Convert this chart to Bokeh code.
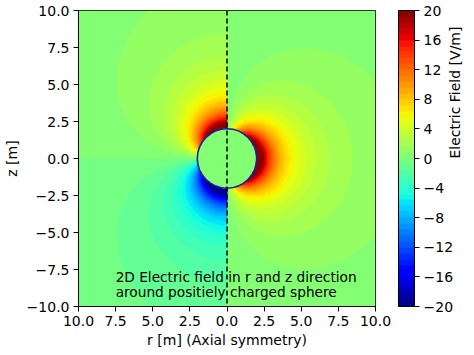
import numpy as np
from bokeh.plotting import figure
from bokeh.models import (LinearColorMapper, ColorBar, FixedTicker, CustomJSTickFormatter,
                          Label, Span, Range1d, LinearAxis)
from bokeh.embed import file_html
from bokeh.resources import INLINE

# ---------------- data ----------------
r_limits = [-10.0, 10.0]
z_limits = [-10.0, 10.0]
sphere_center = [0.0, 0.0]
sphere_radius = 2.0
field_constant = 115.0          # kQ (V*m)
field_limits = [-20.0, 20.0]
n_levels = 50
axis_ticks = [-10.0, -7.5, -5.0, -2.5, 0.0, 2.5, 5.0, 7.5, 10.0]
cbar_ticks = [-20, -16, -12, -8, -4, 0, 4, 8, 12, 16, 20]
note_lines = ["2D Electric field in r and z direction", "around positiely charged sphere"]
note_pos = [-7.5, -8.0, -9.0]
x_label = "r [m] (Axial symmetry)"
y_label = "z [m]"
cbar_label = "Electric Field [V/m]"

FONT = "DejaVu Sans"
FS = "14px"


def jet(t):
    t = np.asarray(t, dtype=float)
    r = np.interp(t, [0, 0.35, 0.66, 0.89, 1], [0, 0, 1, 1, 0.5])
    g = np.interp(t, [0, 0.125, 0.375, 0.64, 0.91, 1], [0, 0, 1, 1, 0, 0])
    b = np.interp(t, [0, 0.11, 0.34, 0.65, 1], [0.5, 1, 1, 0, 0])
    return r, g, b


mids = (np.arange(n_levels) + 0.5) / n_levels
rr, gg, bb = jet(mids)
palette = ["#%02x%02x%02x" % (int(round(a * 255)), int(round(b_ * 255)), int(round(c * 255)))
           for a, b_, c in zip(rr, gg, bb)]

# field grid: left half shows E_z, right half shows E_r
n = 400
xs = np.linspace(r_limits[0], r_limits[1], n)
zs = np.linspace(z_limits[0], z_limits[1], n)
X, Z = np.meshgrid(xs, zs)
R = np.hypot(X - sphere_center[0], Z - sphere_center[1])
R3 = np.maximum(R, 1e-6) ** 3
E = np.where(X < 0, field_constant * Z / R3, field_constant * X / R3)
E[R < sphere_radius] = 0.0
E = E.astype(np.float32)

mapper = LinearColorMapper(palette=palette, low=field_limits[0], high=field_limits[1])

p = figure(width=474, height=355, x_range=Range1d(*r_limits), y_range=Range1d(*z_limits),
           output_backend="svg", toolbar_location=None,
           min_border_left=77, min_border_right=99, min_border_top=10, min_border_bottom=49)
p.grid.visible = False
p.outline_line_color = "black"
p.outline_line_width = 1
p.background_fill_color = "white"

p.image(image=[E], x=r_limits[0], y=z_limits[0], dw=r_limits[1] - r_limits[0],
        dh=z_limits[1] - z_limits[0], color_mapper=mapper)

p.circle(x=[sphere_center[0]], y=[sphere_center[1]], radius=sphere_radius,
         fill_color=None, line_color="#1c1ca0", line_width=1.6)

p.add_layout(Span(location=0, dimension="height", line_color="black",
                  line_dash="5 3", line_width=1.5))

abs_fmt = CustomJSTickFormatter(code="return Math.abs(tick).toFixed(1);")
minus_fmt = CustomJSTickFormatter(code="return (tick < 0 ? '\u2212' : '') + Math.abs(tick).toFixed(1);")
cb_fmt = CustomJSTickFormatter(code="return (tick < 0 ? '\u2212' : '') + Math.abs(tick).toFixed(0);")

for ax, fmt in ((p.xaxis[0], abs_fmt), (p.yaxis[0], minus_fmt)):
    ax.ticker = FixedTicker(ticks=axis_ticks)
    ax.formatter = fmt
    ax.major_tick_out = 5
    ax.major_tick_in = 0
    ax.minor_tick_line_color = None
    ax.axis_line_color = "black"
    ax.major_tick_line_color = "black"
    ax.major_label_text_font = FONT
    ax.major_label_text_font_size = FS
    ax.major_label_text_color = "black"
    ax.major_label_standoff = 4
    ax.axis_label_text_font = FONT
    ax.axis_label_text_font_size = FS
    ax.axis_label_text_font_style = "normal"
    ax.axis_label_text_color = "black"

p.xaxis[0].axis_label = x_label
p.xaxis[0].axis_label_standoff = 3
p.yaxis[0].axis_label = y_label
p.yaxis[0].axis_label_standoff = 4

cb = ColorBar(color_mapper=mapper, ticker=FixedTicker(ticks=cbar_ticks), formatter=cb_fmt,
              width=16, height=296, padding=0, margin=0, location=(320, 0),
              bar_line_color="black", bar_line_width=1,
              major_tick_out=5, major_tick_in=0, major_tick_line_color="black",
              minor_tick_line_color=None, label_standoff=4,
              major_label_text_font=FONT, major_label_text_font_size=FS,
              major_label_text_color="black",
              background_fill_alpha=0, border_line_color=None)
p.add_layout(cb, "center")

# colour-bar title carried by a tickless axis on the right
cb_axis = LinearAxis(ticker=FixedTicker(ticks=[]), axis_line_color=None,
                     major_tick_out=0, major_tick_in=0, minor_tick_out=0, minor_tick_in=0,
                     major_tick_line_color=None, minor_tick_line_color=None,
                     major_label_standoff=0,
                     axis_label=cbar_label, axis_label_standoff=79,
                     axis_label_orientation=np.pi / 2,
                     axis_label_text_font=FONT, axis_label_text_font_size=FS,
                     axis_label_text_font_style="normal", axis_label_text_color="black")
p.add_layout(cb_axis, "right")

for txt, yy in ((note_lines[0], note_pos[1]), (note_lines[1], note_pos[2])):
    p.add_layout(Label(text=txt, x=note_pos[0], y=yy, text_align="left",
                       text_baseline="alphabetic", text_font=FONT, text_font_size="13.7px",
                       text_color="black"))

open("out.html", "w").write(file_html(p, INLINE))
